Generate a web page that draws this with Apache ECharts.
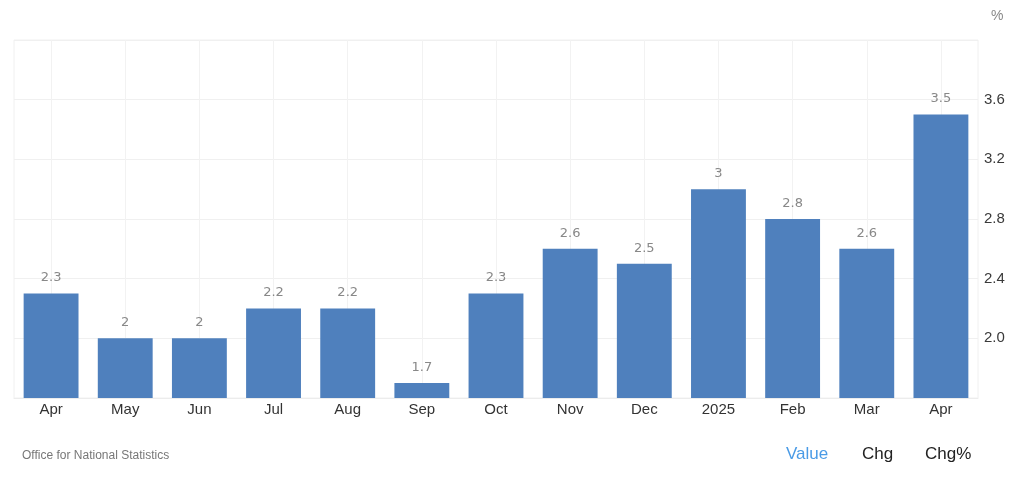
<!DOCTYPE html>
<html><head><meta charset="utf-8">
<script src="https://cdn.jsdelivr.net/npm/echarts@6/dist/echarts.min.js"></script>
<style>html,body{margin:0;padding:0;background:#fff}#c{width:1024px;height:482px}</style>
</head><body><div id="c"></div>
<script>
const categories = ['Apr','May','Jun','Jul','Aug','Sep','Oct','Nov','Dec','2025','Feb','Mar','Apr'];
const values = [2.3, 2, 2, 2.2, 2.2, 1.7, 2.3, 2.6, 2.5, 3, 2.8, 2.6, 3.5];
const yTicks = [2.0, 2.4, 2.8, 3.2, 3.6];
const unitLabel = '%';
const sourceText = 'Office for National Statistics';
const tabs = ['Value', 'Chg', 'Chg%'];

const chart = echarts.init(document.getElementById('c'));
chart.setOption({
  animation: false,
  textStyle: { fontFamily: 'Liberation Sans, Arial, sans-serif' },
  grid: { left: 14, right: 46, top: 40, bottom: 84, show: true, borderColor: '#f0f0f0', borderWidth: 1 },
  xAxis: {
    type: 'category',
    data: categories,
    axisLine: { show: true, lineStyle: { color: '#ececec' } },
    axisTick: { show: false },
    axisLabel: { color: '#333', fontSize: 15, margin: 4 },
    splitLine: { show: true, alignWithLabel: true, lineStyle: { color: '#f2f2f2' } }
  },
  yAxis: {
    type: 'value',
    position: 'right',
    min: 1.6, max: 4.0, interval: 0.4,
    axisLine: { show: false },
    axisTick: { show: false },
    splitLine: { lineStyle: { color: '#f0f0f0' } },
    axisLabel: {
      color: '#3a3a3a', fontSize: 15, margin: 6,
      formatter: v => yTicks.some(t => Math.abs(t - v) < 1e-6) ? v.toFixed(1) : ''
    }
  },
  series: [{
    type: 'bar',
    data: values,
    barWidth: '74%',
    itemStyle: { color: '#4f80bd' },
    label: { show: true, position: 'top', color: '#888', fontSize: 13, distance: 9, fontFamily: 'DejaVu Sans, sans-serif' }
  }],
  graphic: [
    { type: 'text', left: 991, top: 9, style: { text: unitLabel, fill: '#888', fontSize: 14, fontFamily: 'Liberation Sans, Arial' } },
    { type: 'text', left: 22, top: 450, style: { text: sourceText, fill: '#777', fontSize: 12, fontFamily: 'Liberation Sans, Arial' } },
    { type: 'text', left: 786, top: 446, style: { text: tabs[0], fill: '#4a9be6', fontSize: 17, fontFamily: 'Liberation Sans, Arial' } },
    { type: 'text', left: 862, top: 446, style: { text: tabs[1], fill: '#222', fontSize: 17, fontFamily: 'Liberation Sans, Arial' } },
    { type: 'text', left: 925, top: 446, style: { text: tabs[2], fill: '#222', fontSize: 17, fontFamily: 'Liberation Sans, Arial' } }
  ]
});
</script></body></html>
